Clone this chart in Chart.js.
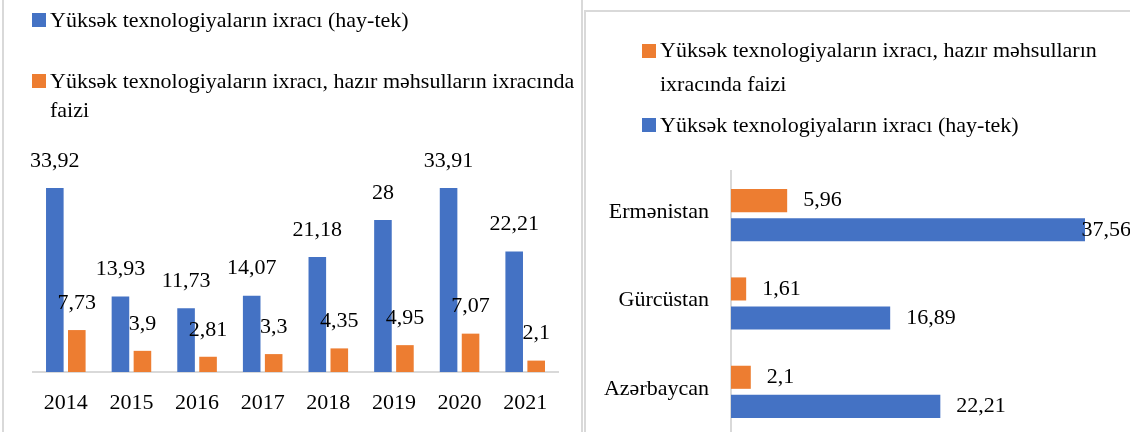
<!DOCTYPE html>
<html><head><meta charset="utf-8">
<script src="https://cdn.jsdelivr.net/npm/chart.js@4.4.1/dist/chart.umd.min.js"></script>
<style>
html,body{margin:0;padding:0;background:#fff;width:1130px;height:432px;overflow:hidden;}
body{position:relative;font-family:"Liberation Serif",serif;color:#000;}
#leftFrame{position:absolute;left:2px;top:-5px;width:577px;height:445px;border-left:2px solid #d9d9d9;border-right:2px solid #d9d9d9;}
#rightFrame{position:absolute;left:584px;top:10px;width:560px;height:440px;border-left:2px solid #d9d9d9;border-top:2px solid #d9d9d9;}
.sw{position:absolute;width:14px;height:14px;}
.lt{position:absolute;font-size:22px;line-height:29px;white-space:nowrap;}
#c1{position:absolute;left:0;top:0;}
#c2{position:absolute;left:586px;top:13px;}
</style>
</head><body>
<div id="leftFrame"></div>
<div id="rightFrame"></div>
<canvas id="c1" width="582" height="432"></canvas>
<canvas id="c2" width="544" height="423"></canvas>

<div class="sw" style="left:32px;top:13px;background:#4472C4"></div>
<div class="lt" id="lt1" style="left:50px;top:5px;"></div>
<div class="sw" style="left:32px;top:74px;background:#ED7D31"></div>
<div class="lt" id="lt2" style="left:50px;top:66px;"></div>

<div class="sw" style="left:642px;top:44px;background:#ED7D31"></div>
<div class="lt" id="rt1" style="left:660px;top:33px;line-height:34px;"></div>
<div class="sw" style="left:642px;top:118px;background:#4472C4"></div>
<div class="lt" id="rt2" style="left:660px;top:108px;line-height:34px;"></div>

<script>
const seriesHiTech = 'Yüksək texnologiyaların ixracı (hay-tek)';
const seriesShareLeft = ['Yüksək texnologiyaların ixracı, hazır məhsulların ixracında', 'faizi'];
const seriesShareRight = ['Yüksək texnologiyaların ixracı, hazır məhsulların', 'ixracında faizi'];

const years = ['2014','2015','2016','2017','2018','2019','2020','2021'];
const hiTech = [33.92, 13.93, 11.73, 14.07, 21.18, 28, 33.91, 22.21];
const share = [7.73, 3.9, 2.81, 3.3, 4.35, 4.95, 7.07, 2.1];

const countries = ['Ermənistan','Gürcüstan','Azərbaycan'];
const countryShare = [5.96, 1.61, 2.1];
const countryHiTech = [37.56, 16.89, 22.21];

const BLUE = '#4472C4', ORANGE = '#ED7D31';
const FONT = '"Liberation Serif", serif';
const FSIZE = 22;

document.getElementById('lt1').textContent = seriesHiTech;
document.getElementById('lt2').innerHTML = seriesShareLeft.join('<br>');
document.getElementById('rt1').innerHTML = seriesShareRight.join('<br>');
document.getElementById('rt2').textContent = seriesHiTech;

const fmt = v => String(v).replace('.', ',');

const valueLabels = {
  id: 'valueLabels',
  afterDatasetsDraw(chart, args, opts) {
    const ctx = chart.ctx;
    ctx.save();
    ctx.font = FSIZE + 'px ' + FONT;
    ctx.fillStyle = '#000';
    chart.data.datasets.forEach((ds, di) => {
      const meta = chart.getDatasetMeta(di);
      meta.data.forEach((bar, i) => {
        const txt = fmt(ds.data[i]);
        if (opts.horizontal) {
          ctx.textAlign = 'left';
          ctx.textBaseline = 'middle';
          const w = ctx.measureText(txt).width;
          const x = Math.min(bar.x + opts.offset, chart.width - w + opts.overflow);
          ctx.fillText(txt, x, bar.y);
        } else {
          ctx.textAlign = 'center';
          ctx.textBaseline = 'middle';
          ctx.fillText(txt, bar.x, bar.y - opts.offset);
        }
      });
    });
    ctx.restore();
  }
};

new Chart(document.getElementById('c1'), {
  type: 'bar',
  data: {
    labels: years,
    datasets: [
      {label: seriesHiTech, data: hiTech, backgroundColor: BLUE, categoryPercentage: 0.67, barPercentage: 0.8},
      {label: seriesShareLeft.join(' '), data: share, backgroundColor: ORANGE, categoryPercentage: 0.67, barPercentage: 0.8}
    ]
  },
  options: {
    responsive: false,
    animation: false,
    layout: {padding: {top: 155, left: 33, right: 24, bottom: 0}},
    plugins: {legend: {display: false}, tooltip: {enabled: false}, valueLabels: {horizontal: false, offset: 27}},
    scales: {
      x: {
        grid: {display: false, drawTicks: false},
        border: {display: true, color: '#d9d9d9', width: 2},
        ticks: {font: {family: FONT, size: FSIZE}, color: '#000', padding: 18},
        afterFit(s) { s.height = 60; }
      },
      y: {display: false, min: 0, max: 40}
    }
  },
  plugins: [valueLabels]
});

new Chart(document.getElementById('c2'), {
  type: 'bar',
  data: {
    labels: countries,
    datasets: [
      {label: seriesShareRight.join(' '), data: countryShare, backgroundColor: ORANGE, categoryPercentage: 0.659, barPercentage: 0.793},
      {label: seriesHiTech, data: countryHiTech, backgroundColor: BLUE, categoryPercentage: 0.659, barPercentage: 0.793}
    ]
  },
  options: {
    indexAxis: 'y',
    responsive: false,
    animation: false,
    layout: {padding: {top: 158, left: 0, right: 22, bottom: 0}},
    plugins: {legend: {display: false}, tooltip: {enabled: false}, valueLabels: {horizontal: true, offset: 16, overflow: 1}},
    scales: {
      y: {
        grid: {display: false, drawTicks: false},
        border: {display: true, color: '#d9d9d9', width: 2},
        ticks: {font: {family: FONT, size: FSIZE}, color: '#000', padding: 22, labelOffset: -3},
        afterFit(s) { s.width = 145; s.paddingTop = 0; s.paddingBottom = 0; }
      },
      x: {display: false, min: 0, max: 40}
    }
  },
  plugins: [valueLabels]
});
</script>
</body></html>
